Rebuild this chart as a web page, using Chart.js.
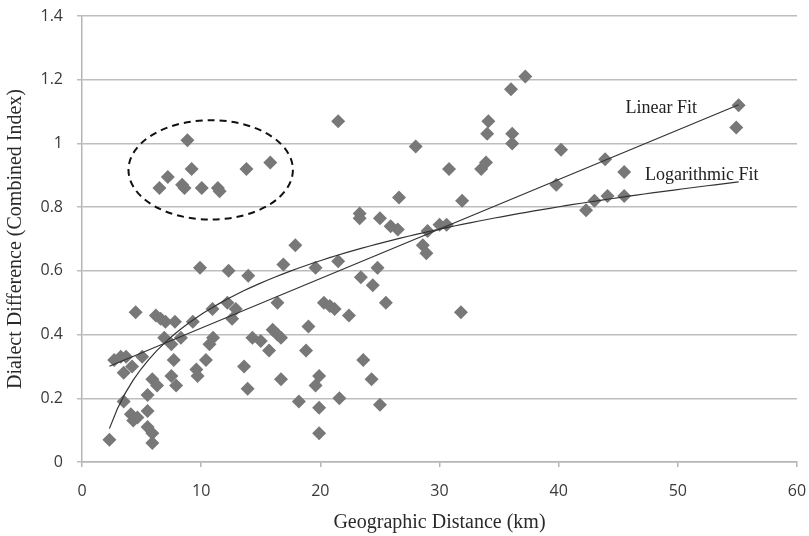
<!DOCTYPE html>
<html>
<head>
<meta charset="utf-8">
<script src="https://cdn.jsdelivr.net/npm/chart.js@4"></script>
<style>
  body { margin: 0; background: #fff; }
  #wrap { width: 809px; height: 536px; }
</style>
</head>
<body>
<div id="wrap"><canvas id="grafico" width="809" height="536"></canvas></div>
<script>
// Geographic distance (km) of each pair of villages
const distancias = [
  2.3, 2.7, 3.25, 3.7, 3.5, 3.5, 4.1, 4.3, 4.65, 4.2, 4.5, 5.05, 5.5, 5.5, 5.5, 5.9, 5.9, 5.9, 6.3,
  6.2, 6.6, 7.0, 6.9, 7.5, 7.7, 7.5, 7.9, 7.8, 8.3, 9.3, 9.6, 9.7, 10.4, 10.7, 11.0, 10.95,
  12.2, 12.9, 12.6, 9.9, 12.3, 13.95, 13.6, 13.9, 14.3, 15.0, 15.7, 16.0, 16.4, 16.7, 16.4,
  16.9, 16.7, 17.9, 18.2, 18.8, 19.0, 19.6, 19.6, 19.9, 19.9, 19.9, 20.3, 20.8, 21.2, 21.5,
  21.6, 22.4, 21.5, 23.3, 23.3, 23.4, 23.6, 24.3, 24.4, 24.8, 25.0, 25.0, 25.5, 25.9, 26.5,
  26.6, 28.0, 28.6, 28.9, 29.0, 30.0, 30.6, 30.8, 31.8, 31.9, 33.5, 33.9, 34.1, 34.0, 36.0,
  36.1, 36.1, 37.2, 39.8, 40.2, 42.3, 43.0, 44.1, 45.5, 43.9, 45.5, 55.1, 54.9,
  // grupo dentro de la elipse
  6.5, 7.2, 8.4, 8.6, 8.85, 9.2, 10.05, 11.4, 11.55, 13.8, 15.8
];

// Dialect difference (combined index), same order
const diferencias = [
  0.07, 0.32, 0.33, 0.33, 0.28, 0.19, 0.15, 0.13, 0.14, 0.30, 0.47, 0.33, 0.21, 0.16, 0.11, 0.09, 0.06, 0.26, 0.24,
  0.46, 0.45, 0.44, 0.39, 0.37, 0.32, 0.27, 0.24, 0.44, 0.39, 0.44, 0.29, 0.27, 0.32, 0.37, 0.39, 0.48,
  0.50, 0.48, 0.45, 0.61, 0.60, 0.585, 0.30, 0.23, 0.39, 0.38, 0.35, 0.415, 0.40, 0.39, 0.50,
  0.62, 0.26, 0.68, 0.19, 0.35, 0.425, 0.61, 0.24, 0.27, 0.17, 0.09, 0.50, 0.49, 0.48, 0.63,
  0.20, 0.46, 1.07, 0.78, 0.765, 0.58, 0.32, 0.26, 0.555, 0.61, 0.765, 0.18, 0.50, 0.74, 0.73,
  0.83, 0.99, 0.68, 0.655, 0.725, 0.745, 0.745, 0.92, 0.47, 0.82, 0.92, 0.94, 1.07, 1.03, 1.17,
  1.03, 1.0, 1.21, 0.87, 0.98, 0.79, 0.82, 0.835, 0.835, 0.95, 0.91, 1.12, 1.05,
  0.86, 0.895, 0.87, 0.86, 1.01, 0.92, 0.86, 0.86, 0.85, 0.92, 0.94
];

const ticksX = [0, 10, 20, 30, 40, 50, 60];
const ticksY = [0, 0.2, 0.4, 0.6, 0.8, 1, 1.2, 1.4];

// Dashed ellipse around the outlier group (data units)
const elipse = { cx: 10.8, cy: 0.917, rx: 6.9, ry: 0.156 };

// Text labels for the two fits (data units, centre of text)
const etiquetas = [
  { texto: "Linear Fit", x: 48.6, y: 1.111 },
  { texto: "Logarithmic Fit", x: 52.0, y: 0.90 }
];

// Least squares fits, computed from the points
function ajusteLineal(xs, ys) {
  const n = xs.length;
  let sx = 0, sy = 0, sxx = 0, sxy = 0;
  for (let i = 0; i < n; i++) {
    sx += xs[i]; sy += ys[i]; sxx += xs[i] * xs[i]; sxy += xs[i] * ys[i];
  }
  const m = (n * sxy - sx * sy) / (n * sxx - sx * sx);
  return { m: m, b: (sy - m * sx) / n };
}

const xMin = Math.min(...distancias);
const xMax = Math.max(...distancias);
const lin = ajusteLineal(distancias, diferencias);
const logAj = ajusteLineal(distancias.map(v => Math.log(v)), diferencias);

const puntos = distancias.map((d, i) => ({ x: d, y: diferencias[i] }));
const lineaLineal = [xMin, xMax].map(x => ({ x: x, y: lin.m * x + lin.b }));
const lineaLog = [];
for (let k = 0; k <= 80; k++) {
  const x = xMin + (xMax - xMin) * k / 80;
  lineaLog.push({ x: x, y: logAj.m * Math.log(x) + logAj.b });
}

const extras = {
  id: 'extras',
  afterDatasetsDraw(chart) {
    const ctx = chart.ctx;
    const sx = chart.scales.x, sy = chart.scales.y;
    // ellipse
    const cx = sx.getPixelForValue(elipse.cx);
    const cy = sy.getPixelForValue(elipse.cy);
    const rx = sx.getPixelForValue(elipse.cx + elipse.rx) - cx;
    const ry = cy - sy.getPixelForValue(elipse.cy + elipse.ry);
    ctx.save();
    ctx.beginPath();
    ctx.setLineDash([7, 5]);
    ctx.lineWidth = 2;
    ctx.strokeStyle = '#111';
    ctx.ellipse(cx, cy, rx, ry, 0, 0, Math.PI * 2);
    ctx.stroke();
    ctx.setLineDash([]);
    // fit labels
    ctx.font = '18px "Liberation Serif", "Times New Roman", serif';
    ctx.fillStyle = '#222';
    ctx.textAlign = 'center';
    ctx.textBaseline = 'middle';
    etiquetas.forEach(e => {
      ctx.fillText(e.texto, sx.getPixelForValue(e.x), sy.getPixelForValue(e.y));
    });
    ctx.restore();
  }
};

const fuenteTicks = { family: '"Open Sans", sans-serif', size: 16 };
const fuenteTitulo = { family: '"Liberation Serif", "Times New Roman", serif', size: 20 };

new Chart(document.getElementById('grafico').getContext('2d'), {
  type: 'scatter',
  data: {
    datasets: [
      {
        label: 'Data',
        data: puntos,
        pointStyle: 'rectRot',
        pointRadius: 7,
        pointBackgroundColor: '#787878',
        pointBorderColor: '#787878',
        pointBorderWidth: 0,
        showLine: false,
        order: 2
      },
      {
        label: 'Linear Fit',
        data: lineaLineal,
        showLine: true,
        borderColor: '#333',
        borderWidth: 1.2,
        pointRadius: 0,
        order: 1
      },
      {
        label: 'Logarithmic Fit',
        data: lineaLog,
        showLine: true,
        borderColor: '#333',
        borderWidth: 1.2,
        pointRadius: 0,
        tension: 0,
        order: 1
      }
    ]
  },
  options: {
    responsive: false,
    devicePixelRatio: 1,
    animation: false,
    layout: { padding: { left: 0, right: 12, top: 16, bottom: 0 } },
    plugins: {
      legend: { display: false },
      tooltip: { enabled: false }
    },
    scales: {
      x: {
        type: 'linear',
        min: 0,
        max: 60,
        afterBuildTicks: s => { s.ticks = ticksX.map(v => ({ value: v })); },
        afterFit: s => { s.height = 74; s.paddingLeft = 0; s.paddingRight = 0; },
        grid: { drawOnChartArea: false, tickLength: 5, color: '#b5b5b5', lineWidth: 1.5 },
        border: { color: '#b5b5b5', width: 1.5 },
        ticks: { font: fuenteTicks, color: '#3a3a3a', padding: 15, maxRotation: 0 },
        title: {
          display: true,
          text: 'Geographic Distance (km)',
          font: fuenteTitulo,
          color: '#2a2a2a',
          padding: { top: 0, bottom: 1 }
        }
      },
      y: {
        type: 'linear',
        min: 0,
        max: 1.4,
        afterBuildTicks: s => { s.ticks = ticksY.map(v => ({ value: v })); },
        afterFit: s => { s.width = 82; s.paddingTop = 0; s.paddingBottom = 0; },
        grid: { tickLength: 5, color: '#bdbdbd', lineWidth: 1.5 },
        border: { color: '#b5b5b5', width: 1.5 },
        ticks: {
          font: fuenteTicks,
          color: '#3a3a3a',
          padding: 14,
          callback: v => String(+v.toFixed(1))
        },
        title: {
          display: true,
          text: 'Dialect Difference (Combined Index)',
          font: fuenteTitulo,
          color: '#2a2a2a',
          padding: { top: 4, bottom: 0 }
        }
      }
    }
  },
  plugins: [extras]
});
</script>
</body>
</html>
